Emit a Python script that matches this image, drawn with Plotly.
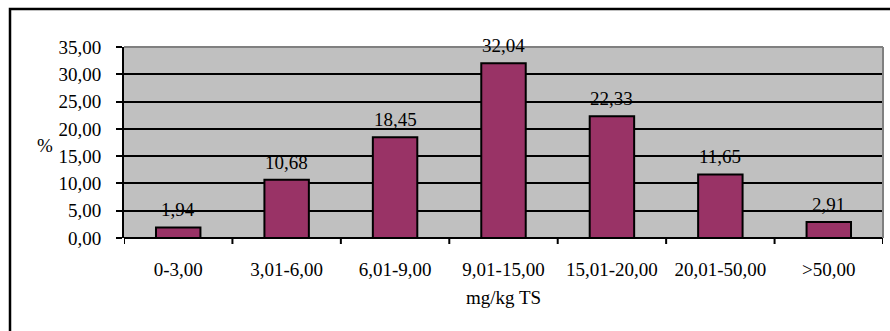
import plotly.graph_objects as go

categories = ["0-3,00", "3,01-6,00", "6,01-9,00", "9,01-15,00", "15,01-20,00", "20,01-50,00", ">50,00"]
values = [1.94, 10.68, 18.45, 32.04, 22.33, 11.65, 2.91]
labels = ["1,94", "10,68", "18,45", "32,04", "22,33", "11,65", "2,91"]
yticks = [0, 5, 10, 15, 20, 25, 30, 35]
yticklabels = ["0,00", "5,00", "10,00", "15,00", "20,00", "25,00", "30,00", "35,00"]

FONT = '"Liberation Serif", "Times New Roman", serif'
FS = 19
L, R, T, B = 124, 7, 47, 93
W, H = 890, 331
pw, ph = W - L - R, H - T - B

fig = go.Figure()
fig.add_trace(go.Bar(
    x=list(range(len(categories))), y=values,
    marker=dict(color="#993366", line=dict(color="black", width=2)),
    width=0.41,
))

for i, (v, t) in enumerate(zip(values, labels)):
    fig.add_annotation(x=i, y=v, xref="x", yref="y", text=t, showarrow=False,
                       yanchor="bottom", yshift=5,
                       font=dict(family=FONT, size=FS, color="black"))

fig.update_layout(
    width=W, height=H,
    margin=dict(l=L, r=R, t=T, b=B),
    paper_bgcolor="white", plot_bgcolor="#C0C0C0",
    showlegend=False,
    font=dict(family=FONT, size=FS, color="black"),
    xaxis=dict(
        range=[-0.5, len(categories) - 0.5],
        tickmode="array", tickvals=list(range(len(categories))), ticktext=categories,
        showgrid=False, zeroline=False,
        showline=False,
        ticks="", ticklen=0,
        ticklabelstandoff=18,
        tickfont=dict(family=FONT, size=FS),
    ),
    yaxis=dict(
        range=[0, 35],
        tickmode="array", tickvals=yticks, ticktext=yticklabels,
        showgrid=True, gridcolor="black", gridwidth=1.5,
        zeroline=False,
        showline=True, linecolor="black", linewidth=2,
        ticks="outside", ticklen=6, tickwidth=2, tickcolor="black",
        ticklabelstandoff=11,
        tickfont=dict(family=FONT, size=FS),
    ),
    bargap=0.6,
)

# x tick marks at category boundaries
for i in range(len(categories) + 1):
    fig.add_shape(type="line", xref="x", yref="paper",
                  x0=i - 0.5, x1=i - 0.5, y0=0, y1=-6 / ph,
                  line=dict(color="black", width=2))

# x axis line
fig.add_shape(type="line", xref="paper", yref="paper", x0=0, x1=1, y0=0, y1=0,
              line=dict(color="black", width=2))
# plot area gray border top/right
fig.add_shape(type="line", xref="paper", yref="paper", x0=0, x1=1, y0=1, y1=1,
              line=dict(color="#808080", width=2))
fig.add_shape(type="line", xref="paper", yref="paper", x0=1, x1=1, y0=0, y1=1,
              line=dict(color="#808080", width=2))

# outer border
fig.add_shape(type="rect", xref="paper", yref="paper",
              x0=(10 - L) / pw, x1=(895 - L) / pw,
              y0=(ph + T - 340) / ph, y1=(ph + T - 9) / ph,
              line=dict(color="black", width=2.5), fillcolor="rgba(0,0,0,0)")

# x title
fig.add_annotation(text="mg/kg TS", xref="paper", yref="paper",
                   x=(503 - L) / pw, y=(ph + T - 297) / ph,
                   showarrow=False, font=dict(family=FONT, size=FS),
                   xanchor="center", yanchor="middle")

# y title "%"
fig.add_annotation(text="%", xref="paper", yref="paper",
                   x=(45 - L) / pw, y=(ph + T - 145) / ph,
                   showarrow=False, font=dict(family=FONT, size=FS),
                   xanchor="center", yanchor="middle")

fig.write_html("out.html")
